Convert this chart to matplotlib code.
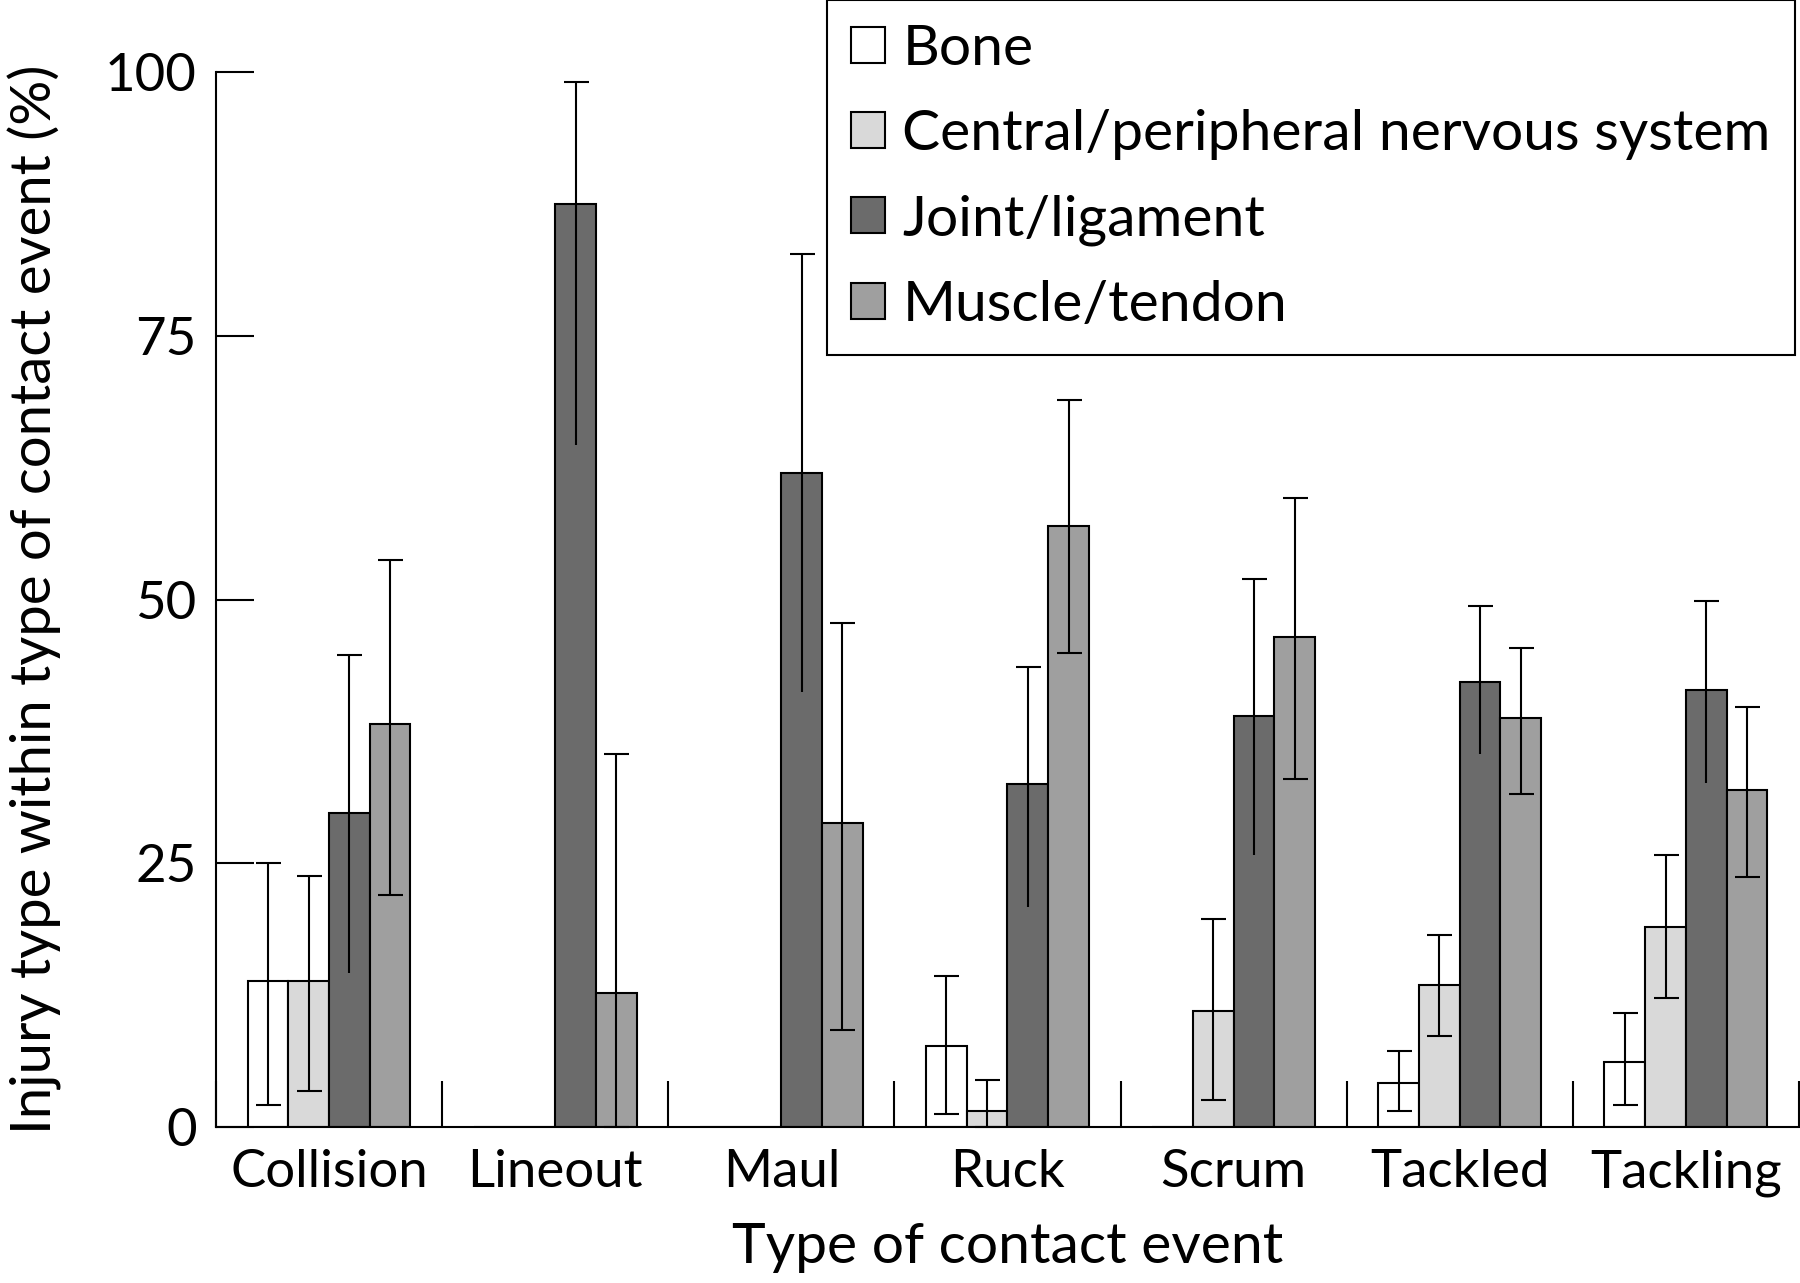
import numpy as np
import matplotlib
matplotlib.use("Agg")
import matplotlib.pyplot as plt

plt.rcParams['font.family'] = ['Lato', 'DejaVu Sans']

events = ["Collision", "Lineout", "Maul", "Ruck", "Scrum", "Tackled", "Tackling"]
series = ["Bone", "Central/peripheral nervous system", "Joint/ligament", "Muscle/tendon"]
colors = ["#ffffff", "#d9d9d9", "#6b6b6b", "#9f9f9f"]

# percentages per event, one list per injury type
bone = [13.8, 0, 0, 7.7, 0, 4.2, 6.2]
cns = [13.8, 0, 0, 1.5, 11.0, 13.5, 19.0]
joint = [29.8, 87.5, 62.0, 32.5, 39.0, 42.2, 41.4]
muscle = [38.2, 12.7, 28.8, 57.0, 46.5, 38.8, 32.0]

# 95% CI limits (nan = no bar)
bone_lo = [2.1, np.nan, np.nan, 1.2, np.nan, 1.5, 2.1]
bone_hi = [25.0, np.nan, np.nan, 14.3, np.nan, 7.2, 10.8]
cns_lo = [3.4, np.nan, np.nan, 0.0, 2.6, 8.6, 12.2]
cns_hi = [23.8, np.nan, np.nan, 4.5, 19.7, 18.2, 25.8]
joint_lo = [14.6, 64.7, 41.2, 20.9, 25.8, 35.4, 32.6]
joint_hi = [44.8, 99.1, 82.8, 43.6, 52.0, 49.4, 49.9]
muscle_lo = [22.0, 0.0, 9.2, 44.9, 33.0, 31.6, 23.7]
muscle_hi = [53.8, 35.4, 47.8, 68.9, 59.6, 45.4, 39.8]

values = [bone, cns, joint, muscle]
lows = [bone_lo, cns_lo, joint_lo, muscle_lo]
highs = [bone_hi, cns_hi, joint_hi, muscle_hi]

fig = plt.figure(figsize=(18, 12.83), dpi=100)
ax = fig.add_axes([0.12, 0.1216, 0.8794, 0.822])

x = np.arange(len(events))
w = 0.18
for i, (name, vals, lo, hi, c) in enumerate(zip(series, values, lows, highs, colors)):
    xpos = x + (i - 1.5) * w
    ax.bar(xpos, vals, width=w, color=c, edgecolor="black", linewidth=1.5,
           label=name, zorder=2)
    v = np.array(vals, dtype=float)
    lo = np.array(lo)
    hi = np.array(hi)
    err = [v - lo, hi - v]
    eb = ax.errorbar(xpos, v, yerr=err, fmt="none", ecolor="black",
                     elinewidth=1.5, capsize=9, capthick=1.5, zorder=3, clip_on=False)
    if i == 2:
        eb[1][0].set_visible(False)  # joint bars: no lower cap

ax.set_xlim(-0.5, len(events) - 0.5)
ax.set_ylim(0, 100)
ax.spines["top"].set_visible(False)
ax.spines["right"].set_visible(False)
ax.spines["left"].set_linewidth(1.5)
ax.spines["bottom"].set_linewidth(1.5)

ax.set_yticks([0, 25, 50, 75, 100])
ax.tick_params(axis="y", direction="in", length=27, width=1.5, labelsize=38, pad=14)

ax.set_xticks(np.arange(len(events) + 1) - 0.5)
ax.set_xticklabels([])
ax.set_xticks(x, minor=True)
ax.set_xticklabels(events, minor=True)
ax.tick_params(axis="x", which="major", direction="in", length=33, width=1.5)
ax.tick_params(axis="x", which="minor", length=0, labelsize=38, pad=16)

ax.set_xlabel("Type of contact event", fontsize=41, labelpad=18)
ax.set_ylabel("Injury type within type of contact event (%)", fontsize=40.5)
ax.yaxis.set_label_coords(-0.097, 0.5)

leg = fig.legend(loc="upper right", bbox_to_anchor=(0.997, 1.0), fontsize=41,
                 frameon=True, fancybox=False, edgecolor="black", framealpha=1,
                 handlelength=0.6, handleheight=0.6, handletextpad=0.3,
                 labelspacing=0.6, borderaxespad=0, borderpad=0.42)
leg.get_frame().set_linewidth(1.5)

fig.savefig("out.png", dpi=100)
